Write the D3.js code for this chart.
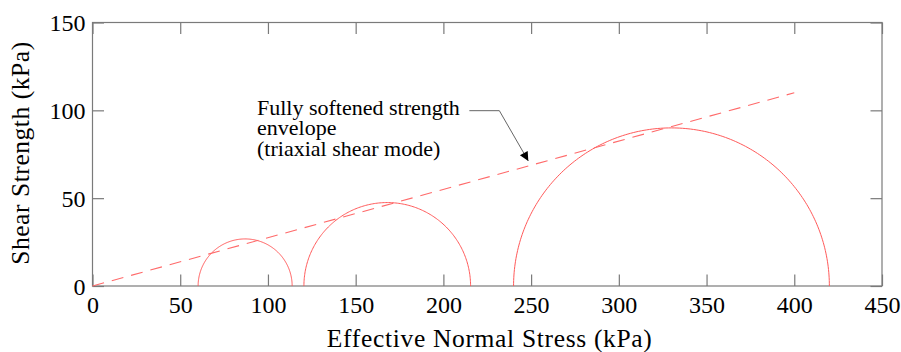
<!DOCTYPE html>
<html><head><meta charset="utf-8">
<script src="https://cdn.jsdelivr.net/npm/d3@7"></script>
<style>body{margin:0;background:#fff;}svg{display:block;}</style></head>
<body><svg id="c" width="901" height="352"></svg>
<script>
const xTicks = [0,50,100,150,200,250,300,350,400,450];
const yTicks = [0,50,100,150];
const circleCenters = [87, 168, 330];
const circleRadii = [26.8, 47.5, 90];
const envelopeX = [0, 400];
const envelopeY = [0, 110];
const annotationLines = ["Fully softened strength","envelope","(triaxial shear mode)"];
const arrowPoints = [[214.8, 99.8], [231.9, 99.8], [248.4, 71.2]]; // data coords
const xTitle = "Effective Normal Stress (kPa)";
const yTitle = "Shear Strength (kPa)";

const FONT = '"Liberation Serif","Times New Roman",Times,serif';
const svg = d3.select("#c");
const L=92.5, R=882, T=22.5, B=286;
const x = d3.scaleLinear().domain([0,450]).range([L,R]);
const y = d3.scaleLinear().domain([0,150]).range([B,T]);
const axisColor = "#7a7a7a";

svg.append("rect").attr("x",L).attr("y",T).attr("width",R-L).attr("height",B-T)
  .attr("fill","none").attr("stroke",axisColor).attr("stroke-width",1.2);

const tl = 11.5;
const gx = svg.append("g").attr("transform",`translate(0,${B})`)
  .call(d3.axisBottom(x).tickValues(xTicks).tickSize(-tl).tickPadding(27).tickFormat(d3.format("d")));
const gxt = svg.append("g").attr("transform",`translate(0,${T})`)
  .call(d3.axisTop(x).tickValues(xTicks).tickSize(-tl).tickFormat(""));
const gy = svg.append("g").attr("transform",`translate(${L},0)`)
  .call(d3.axisLeft(y).tickValues(yTicks).tickSize(-tl).tickPadding(7).tickFormat(d3.format("d")));
const gyr = svg.append("g").attr("transform",`translate(${R},0)`)
  .call(d3.axisRight(y).tickValues(yTicks).tickSize(-tl).tickFormat(""));
[gx,gxt,gy,gyr].forEach(g=>{
  g.select(".domain").remove();
  g.selectAll(".tick line").attr("stroke",axisColor).attr("stroke-width",1.2);
  g.selectAll("text").style("font-family",FONT).attr("font-size",24).attr("fill","#000");
});
gx.selectAll("text").attr("dy","0");
gy.selectAll("text").attr("dy","0.34em");

// Mohr circles (upper halves)
circleCenters.forEach((c,i)=>{
  const r = circleRadii[i];
  const pts = d3.range(0,181).map(a=>[c + r*Math.cos(a*Math.PI/180), r*Math.sin(a*Math.PI/180)]);
  svg.append("path").attr("d", d3.line().x(d=>x(d[0])).y(d=>y(d[1]))(pts))
    .attr("fill","none").attr("stroke","#ff5a5a").attr("stroke-width",1);
});

// envelope
svg.append("line").attr("x1",x(envelopeX[0])).attr("y1",y(envelopeY[0]))
  .attr("x2",x(envelopeX[1])).attr("y2",y(envelopeY[1]))
  .attr("stroke","#ff6a6a").attr("stroke-width",1.1).attr("stroke-dasharray","12,8");

// annotation
const ann = svg.append("text").attr("x",257).attr("y",114.5).attr("font-size",22).style("font-family",FONT);
annotationLines.forEach((t,i)=>ann.append("tspan").attr("x",257).attr("dy",i?20.7:0).text(t));

svg.append("defs").append("marker").attr("id","ah").attr("viewBox","0 0 10 10")
  .attr("refX",10).attr("refY",5).attr("markerWidth",13).attr("markerHeight",9)
  .attr("markerUnits","userSpaceOnUse").attr("orient","auto")
  .append("path").attr("d","M0,0L10,5L0,10z").attr("fill","#000");
svg.append("path").attr("d", d3.line().x(d=>x(d[0])).y(d=>y(d[1]))(arrowPoints))
  .attr("fill","none").attr("stroke","#555").attr("stroke-width",0.9).attr("marker-end","url(#ah)");

// titles
svg.append("text").attr("x",(326.7+652)/2).attr("y",347).attr("text-anchor","middle")
  .style("font-family",FONT).attr("font-size",25.5)
  .attr("textLength",325).attr("lengthAdjust","spacing").text(xTitle);
svg.append("text").attr("transform",`translate(28.5,153.3) rotate(-90)`).attr("text-anchor","middle")
  .style("font-family",FONT).attr("font-size",25.5)
  .attr("textLength",223).attr("lengthAdjust","spacing").text(yTitle);
</script></body></html>
